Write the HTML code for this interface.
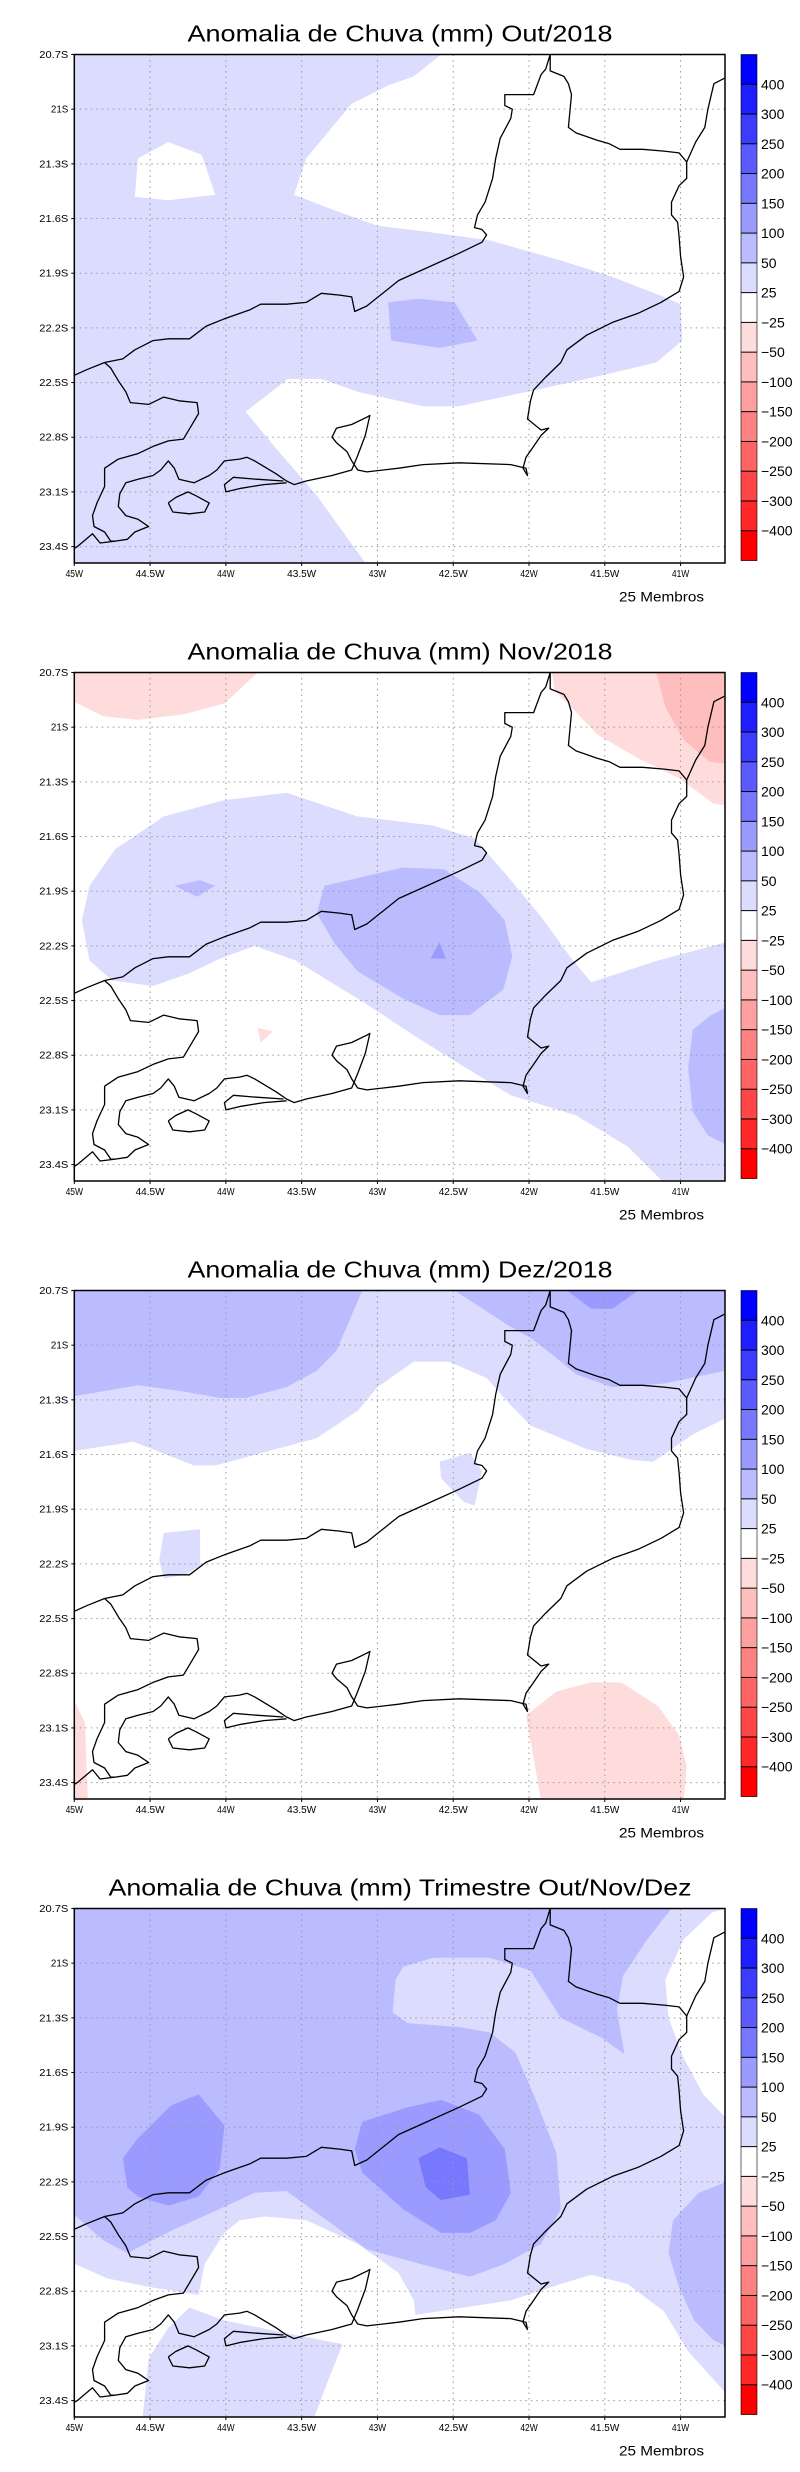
<!DOCTYPE html>
<html><head><meta charset="utf-8"><title>Anomalia de Chuva</title>
<style>
html,body{margin:0;padding:0;background:#fff;}
svg{display:block;}
</style></head>
<body>
<svg id="fig" width="800" height="2472" viewBox="0 0 800 2472" xmlns="http://www.w3.org/2000/svg" font-family="Liberation Sans, DejaVu Sans, sans-serif"></svg>
<script>
// ---- chart data ----
const panelTitles = ["Anomalia de Chuva (mm) Out/2018","Anomalia de Chuva (mm) Nov/2018","Anomalia de Chuva (mm) Dez/2018","Anomalia de Chuva (mm) Trimestre Out/Nov/Dez"];
const titleWidths = [425,425,425,583];
const lonTicks = [-45,-44.5,-44,-43.5,-43,-42.5,-42,-41.5,-41];
const lonTickLabels = ["45W","44.5W","44W","43.5W","43W","42.5W","42W","41.5W","41W"];
const latTicks = [-20.7,-21,-21.3,-21.6,-21.9,-22.2,-22.5,-22.8,-23.1,-23.4];
const latTickLabels = ["20.7S","21S","21.3S","21.6S","21.9S","22.2S","22.5S","22.8S","23.1S","23.4S"];
const legendLabels = ["400","300","250","200","150","100","50","25","-25","-50","-100","-150","-200","-250","-300","-400"];
const legendColors = ["#0000ff","#1e1eff","#3c3cff","#5a5aff","#7878ff","#9b9bff","#bbbbff","#dcdcff","#ffffff","#ffdcdc","#ffbebe","#ffa0a0","#ff8282","#ff6464","#ff4646","#ff2828","#ff0000"];
// fill classes: index into legendColors
const p1Base = 7;
const p1Regions = [
 {c:8, pts:[[-42.58,-20.70],[-42.76,-20.82],[-42.93,-20.87],[-43.17,-20.97],[-43.30,-21.10],[-43.47,-21.27],[-43.55,-21.47],[-43.30,-21.55],[-43.00,-21.64],[-42.70,-21.67],[-42.26,-21.72],[-41.79,-21.83],[-41.45,-21.92],[-41.11,-22.03],[-41.00,-22.07],[-40.99,-22.27],[-41.16,-22.39],[-41.62,-22.48],[-42.12,-22.57],[-42.46,-22.63],[-42.70,-22.63],[-43.13,-22.55],[-43.37,-22.48],[-43.59,-22.48],[-43.87,-22.66],[-43.67,-22.86],[-43.40,-23.12],[-43.07,-23.50],[-40.70,-23.50],[-40.70,-20.70]]},
 {c:8, pts:[[-44.58,-21.27],[-44.38,-21.18],[-44.16,-21.25],[-44.07,-21.47],[-44.38,-21.50],[-44.60,-21.48]]},
 {c:6, pts:[[-42.93,-22.06],[-42.73,-22.04],[-42.49,-22.06],[-42.34,-22.27],[-42.59,-22.31],[-42.91,-22.27]]}
];
const p2Base = 8;
const p2Regions = [
 {c:9, pts:[[-45,-20.70],[-43.79,-20.70],[-44.01,-20.87],[-44.28,-20.93],[-44.58,-20.96],[-44.81,-20.94],[-45,-20.86]]},
 {c:9, pts:[[-41.85,-20.70],[-40.70,-20.70],[-40.70,-21.43],[-40.78,-21.42],[-41.01,-21.28],[-41.28,-21.17],[-41.55,-21.04],[-41.71,-20.90],[-41.83,-20.80]]},
 {c:10, pts:[[-41.16,-20.70],[-40.70,-20.70],[-40.70,-21.20],[-40.81,-21.19],[-40.98,-21.07],[-41.10,-20.89]]},
 {c:7, pts:[[-44.95,-22.06],[-44.90,-21.87],[-44.73,-21.67],[-44.41,-21.49],[-44.01,-21.40],[-43.60,-21.36],[-43.13,-21.49],[-42.63,-21.54],[-42.36,-21.61],[-42.16,-21.80],[-41.92,-22.04],[-41.72,-22.27],[-41.59,-22.40],[-41.15,-22.28],[-40.70,-22.18],[-40.70,-23.50],[-41.11,-23.50],[-41.35,-23.30],[-41.69,-23.13],[-42.12,-23.02],[-42.59,-22.78],[-42.80,-22.67],[-43.07,-22.52],[-43.54,-22.28],[-43.81,-22.20],[-44.04,-22.27],[-44.24,-22.35],[-44.48,-22.42],[-44.75,-22.39],[-44.90,-22.28]]},
 {c:6, pts:[[-43.35,-21.87],[-42.83,-21.77],[-42.56,-21.78],[-42.32,-21.91],[-42.16,-22.06],[-42.11,-22.26],[-42.17,-22.44],[-42.39,-22.58],[-42.59,-22.58],[-42.83,-22.49],[-43.13,-22.34],[-43.28,-22.19],[-43.40,-22.02]]},
 {c:6, pts:[[-40.70,-22.54],[-40.80,-22.58],[-40.92,-22.66],[-40.95,-22.87],[-40.92,-23.11],[-40.82,-23.24],[-40.70,-23.29]]},
 {c:6, pts:[[-44.34,-21.87],[-44.17,-21.84],[-44.07,-21.87],[-44.19,-21.93]]},
 {c:5, pts:[[-42.59,-22.18],[-42.55,-22.27],[-42.65,-22.27]]},
 {c:9, pts:[[-43.79,-22.65],[-43.69,-22.67],[-43.77,-22.73]]}
];
const p3Base = 8;
const p3Regions = [
 {c:7, pts:[[-45,-20.70],[-40.70,-20.70],[-40.70,-21.40],[-40.92,-21.49],[-41.18,-21.64],[-41.32,-21.63],[-41.62,-21.57],[-41.99,-21.44],[-42.12,-21.33],[-42.28,-21.18],[-42.53,-21.09],[-42.76,-21.09],[-43.00,-21.23],[-43.13,-21.36],[-43.40,-21.51],[-43.67,-21.57],[-44.07,-21.66],[-44.21,-21.66],[-44.61,-21.53],[-45,-21.58]]},
 {c:6, pts:[[-45,-20.70],[-43.10,-20.70],[-43.27,-21.03],[-43.40,-21.14],[-43.60,-21.23],[-43.87,-21.29],[-44.04,-21.29],[-44.31,-21.25],[-44.58,-21.22],[-45,-21.28]]},
 {c:6, pts:[[-42.49,-20.70],[-42.12,-20.90],[-41.99,-20.96],[-41.85,-21.05],[-41.69,-21.16],[-41.45,-21.23],[-41.11,-21.21],[-40.70,-21.14],[-40.70,-20.70]]},
 {c:5, pts:[[-41.75,-20.70],[-41.59,-20.80],[-41.45,-20.80],[-41.28,-20.70]]},
 {c:7, pts:[[-42.59,-21.64],[-42.39,-21.59],[-42.31,-21.69],[-42.36,-21.88],[-42.43,-21.86],[-42.58,-21.73]]},
 {c:7, pts:[[-44.41,-22.03],[-44.17,-22.01],[-44.17,-22.21],[-44.27,-22.26],[-44.41,-22.28],[-44.44,-22.18]]},
 {c:9, pts:[[-42.02,-23.03],[-41.82,-22.90],[-41.59,-22.85],[-41.39,-22.85],[-41.15,-22.98],[-41.01,-23.14],[-40.96,-23.31],[-40.98,-23.50],[-41.92,-23.50]]},
 {c:9, pts:[[-45,-22.95],[-44.93,-23.07],[-44.91,-23.50],[-45,-23.50]]}
];
const p4Base = 7;
const p4Regions = [
 {c:8, pts:[[-45,-22.65],[-44.78,-22.73],[-44.48,-22.78],[-44.18,-22.82],[-44.14,-22.65],[-44.01,-22.48],[-43.91,-22.41],[-43.74,-22.39],[-43.47,-22.41],[-43.13,-22.54],[-42.86,-22.70],[-42.76,-22.85],[-42.75,-22.93],[-42.12,-22.85],[-41.79,-22.76],[-41.59,-22.71],[-41.35,-22.76],[-41.11,-22.91],[-40.95,-23.13],[-40.70,-23.36],[-40.70,-23.50],[-45,-23.50]]},
 {c:7, pts:[[-44.55,-23.50],[-44.51,-23.17],[-44.38,-23.00],[-44.24,-22.89],[-44.01,-22.96],[-43.60,-23.03],[-43.23,-23.09],[-43.33,-23.30],[-43.42,-23.50]]},
 {c:8, pts:[[-40.70,-20.70],[-40.79,-20.72],[-40.98,-20.87],[-41.10,-21.09],[-41.08,-21.30],[-40.98,-21.52],[-40.85,-21.72],[-40.70,-21.85]]},
 {c:6, pts:[[-45,-20.70],[-41.06,-20.70],[-41.22,-20.87],[-41.38,-21.07],[-41.42,-21.26],[-41.37,-21.50],[-41.52,-21.41],[-41.79,-21.30],[-41.99,-21.04],[-42.26,-20.97],[-42.63,-20.97],[-42.83,-21.02],[-42.88,-21.09],[-42.90,-21.27],[-42.80,-21.33],[-42.46,-21.35],[-42.26,-21.38],[-42.09,-21.49],[-41.96,-21.74],[-41.82,-22.04],[-41.79,-22.35],[-41.92,-22.54],[-42.16,-22.65],[-42.39,-22.72],[-42.63,-22.67],[-43.07,-22.57],[-43.60,-22.25],[-43.81,-22.26],[-44.07,-22.36],[-44.34,-22.46],[-44.65,-22.59],[-44.81,-22.52],[-45,-22.38]]},
 {c:6, pts:[[-40.70,-22.20],[-40.88,-22.26],[-41.05,-22.41],[-41.08,-22.59],[-41.01,-22.78],[-40.91,-22.96],[-40.78,-23.07],[-40.70,-23.10]]},
 {c:5, pts:[[-44.68,-22.07],[-44.58,-21.96],[-44.36,-21.78],[-44.18,-21.72],[-44.01,-21.89],[-44.04,-22.13],[-44.18,-22.28],[-44.38,-22.33],[-44.58,-22.28],[-44.65,-22.23]]},
 {c:5, pts:[[-43.10,-21.87],[-42.80,-21.79],[-42.58,-21.75],[-42.33,-21.83],[-42.16,-22.02],[-42.12,-22.26],[-42.22,-22.41],[-42.39,-22.48],[-42.58,-22.48],[-42.83,-22.35],[-43.10,-22.15],[-43.15,-22.02]]},
 {c:4, pts:[[-42.73,-22.07],[-42.59,-22.01],[-42.41,-22.07],[-42.39,-22.27],[-42.58,-22.30],[-42.68,-22.23]]}
];
const panelBases = [p1Base,p2Base,p3Base,p4Base];
const panelRegions = [p1Regions,p2Regions,p3Regions,p4Regions];
// coastline / state borders (lon, lat)
const borderRJ = [[-45,-22.46],[-44.92,-22.43],[-44.80,-22.39],[-44.68,-22.37],[-44.60,-22.32],[-44.48,-22.27],[-44.38,-22.26],[-44.24,-22.26],[-44.13,-22.19],[-44.01,-22.15],[-43.84,-22.10],[-43.77,-22.07],[-43.60,-22.07],[-43.47,-22.06],[-43.37,-22.01],[-43.25,-22.02],[-43.17,-22.03],[-43.15,-22.11],[-43.07,-22.08],[-42.86,-21.94],[-42.70,-21.88],[-42.46,-21.79],[-42.31,-21.73],[-42.28,-21.69],[-42.31,-21.66],[-42.36,-21.65],[-42.34,-21.58],[-42.29,-21.51],[-42.24,-21.38],[-42.22,-21.27],[-42.19,-21.16],[-42.12,-21.05],[-42.11,-21.00],[-42.16,-20.98],[-42.16,-20.92],[-41.97,-20.92],[-41.92,-20.81],[-41.89,-20.78],[-41.86,-20.70],[-41.86,-20.79],[-41.77,-20.82],[-41.74,-20.86],[-41.72,-20.92],[-41.74,-21.10],[-41.69,-21.13],[-41.55,-21.17],[-41.47,-21.19],[-41.40,-21.22],[-41.25,-21.22],[-41.11,-21.23],[-41.01,-21.24],[-40.96,-21.29]];
const coastES = [[-40.71,-20.83],[-40.78,-20.86],[-40.82,-21.00],[-40.84,-21.10],[-40.90,-21.18],[-40.96,-21.29],[-40.96,-21.38],[-41.01,-21.42],[-41.06,-21.51],[-41.06,-21.58],[-41.02,-21.62],[-41.01,-21.70],[-41.00,-21.81],[-40.98,-21.92],[-41.01,-22.00],[-41.13,-22.06],[-41.28,-22.12],[-41.45,-22.17],[-41.62,-22.24],[-41.75,-22.32],[-41.79,-22.39],[-41.89,-22.47],[-41.97,-22.54],[-41.99,-22.60],[-42.01,-22.70],[-41.92,-22.76],[-41.87,-22.75],[-41.92,-22.79],[-41.97,-22.85],[-42.02,-22.91],[-42.04,-22.97],[-42.01,-23.01],[-42.02,-22.97],[-42.12,-22.95],[-42.46,-22.94],[-42.70,-22.95],[-42.86,-22.97],[-43.07,-22.99],[-43.13,-22.98],[-43.17,-22.93],[-43.20,-22.88],[-43.27,-22.83],[-43.30,-22.80],[-43.27,-22.75],[-43.17,-22.73],[-43.07,-22.69],[-43.05,-22.68],[-43.08,-22.79],[-43.13,-22.90],[-43.17,-22.98],[-43.30,-23.01],[-43.47,-23.04],[-43.55,-23.06],[-43.60,-23.04],[-43.67,-23.00],[-43.81,-22.93],[-43.86,-22.91],[-43.91,-22.92],[-44.01,-22.93],[-44.06,-22.98],[-44.11,-23.01],[-44.21,-23.05],[-44.31,-23.03],[-44.34,-22.97],[-44.38,-22.93],[-44.43,-22.98],[-44.48,-23.01],[-44.58,-23.03],[-44.66,-23.05],[-44.70,-23.11],[-44.71,-23.18],[-44.66,-23.23],[-44.58,-23.25],[-44.51,-23.29],[-44.60,-23.32],[-44.65,-23.36],[-44.73,-23.37],[-44.83,-23.38],[-44.88,-23.33],[-44.98,-23.40],[-45,-23.41]];
const borderSP = [[-44.80,-22.39],[-44.76,-22.42],[-44.71,-22.49],[-44.66,-22.55],[-44.63,-22.61],[-44.51,-22.62],[-44.41,-22.58],[-44.31,-22.60],[-44.19,-22.61],[-44.18,-22.67],[-44.23,-22.74],[-44.28,-22.81],[-44.38,-22.82],[-44.48,-22.85],[-44.58,-22.89],[-44.71,-22.92],[-44.80,-22.97],[-44.80,-23.07],[-44.85,-23.16],[-44.88,-23.23],[-44.87,-23.29],[-44.80,-23.32],[-44.76,-23.37],[-44.73,-23.37]];
const ilhaGrande = [[-44.38,-23.16],[-44.33,-23.13],[-44.25,-23.10],[-44.20,-23.12],[-44.11,-23.16],[-44.14,-23.21],[-44.24,-23.22],[-44.35,-23.21],[-44.38,-23.16]];
const marambaia = [[-43.60,-23.05],[-43.75,-23.06],[-43.90,-23.08],[-44.00,-23.10],[-44.01,-23.06],[-43.95,-23.02],[-43.80,-23.03],[-43.62,-23.04]];

// ---- layout ----
const NS="http://www.w3.org/2000/svg";
const svg=document.getElementById('fig');
const PANEL_STEP=618, PLOT_TOP=54.5, PLOT_L=74.3, PLOT_R=725;
const LON0=-45, LON1=-40.707, LAT0=-20.7, LAT1=-23.49;
const PLOT_H=508.5;
function xScale(lon){return PLOT_L+(lon-LON0)/(LON1-LON0)*(PLOT_R-PLOT_L);}
function yScale(lat,top){return top+(lat-LAT0)/(LAT1-LAT0)*PLOT_H;}
function mk(tag,attrs,parent){const e=document.createElementNS(NS,tag);for(const k in attrs)e.setAttribute(k,attrs[k]);(parent||svg).appendChild(e);return e;}
function ptsStr(arr,top){return arr.map(p=>xScale(p[0]).toFixed(1)+','+yScale(p[1],top).toFixed(1)).join(' ');}

for(let i=0;i<4;i++){
  const top=PLOT_TOP+PANEL_STEP*i;
  const g=mk('g',{});
  
  
  const cid='clip'+i;
  const cp=mk('clipPath',{id:cid},g);
  mk('rect',{x:PLOT_L,y:top,width:PLOT_R-PLOT_L,height:PLOT_H},cp);
  // title
  const t=mk('text',{x:400,y:top-13,'text-anchor':'middle','font-size':23,textLength:titleWidths[i],lengthAdjust:'spacingAndGlyphs',fill:'#000'},g);
  t.textContent=panelTitles[i];
  
  
  // fields
  const fg=mk('g',{'clip-path':'url(#'+cid+')'},g);
  const base=mk('rect',{x:PLOT_L,y:top,width:PLOT_R-PLOT_L,height:PLOT_H,fill:legendColors[panelBases[i]]},fg);
  
  
  panelRegions[i].forEach(r=>{
    const p=mk('polygon',{points:ptsStr(r.pts,top),fill:legendColors[r.c]},fg);
    
    
  });
  // grid
  lonTicks.forEach((lv,k)=>{
    const x=xScale(lv);
    if(k>0){const gl=mk('line',{x1:x,x2:x,y1:top,y2:top+PLOT_H,stroke:'#999','stroke-width':1,'stroke-dasharray':'1.5,4'},g);
      }
    mk('line',{x1:x,x2:x,y1:top+PLOT_H,y2:top+PLOT_H+3,stroke:'#000','stroke-width':1},g);
    const tl=mk('text',{x:x,y:top+PLOT_H+14,'text-anchor':'middle','font-size':10,fill:'#000',textLength:lonTickLabels[k].length*5.8,lengthAdjust:'spacingAndGlyphs'},g);
    tl.textContent=lonTickLabels[k];
    
  });
  latTicks.forEach((lv,k)=>{
    const y=yScale(lv,top);
    if(k>0){const gl=mk('line',{x1:PLOT_L,x2:PLOT_R,y1:y,y2:y,stroke:'#999','stroke-width':1,'stroke-dasharray':'1.5,4'},g);
      }
    mk('line',{x1:PLOT_L-3,x2:PLOT_L,y1:y,y2:y,stroke:'#000','stroke-width':1},g);
    const tl=mk('text',{x:PLOT_L-6,y:y+3.5,'text-anchor':'end','font-size':10,fill:'#000',textLength:latTickLabels[k].length*5.8,lengthAdjust:'spacingAndGlyphs'},g);
    tl.textContent=latTickLabels[k];
    
  });
  // coast
  const cg=mk('g',{'clip-path':'url(#'+cid+')',fill:'none',stroke:'#000','stroke-width':1.3,'stroke-linejoin':'round'},g);
  [borderRJ,coastES,borderSP,marambaia,ilhaGrande].forEach(line=>{
    const pl=mk('polyline',{points:ptsStr(line,top)},cg);
    
    
  });
  // frame
  const fr=mk('rect',{x:PLOT_L,y:top,width:PLOT_R-PLOT_L,height:PLOT_H,fill:'none',stroke:'#000','stroke-width':1.5},g);
  
  // colorbar
  const cb=mk('g',{},g);
  
  
  const cbTop=top, cbH=506, seg=cbH/legendColors.length;
  legendColors.forEach((c,k)=>{
    const r=mk('rect',{x:741,y:cbTop+k*seg,width:16,height:seg+0.3,fill:c},cb);
    
  });
  for(let k=1;k<legendColors.length;k++){
    mk('line',{x1:741,x2:757,y1:cbTop+k*seg,y2:cbTop+k*seg,stroke:'#000','stroke-width':1},cb);
  }
  mk('rect',{x:741,y:cbTop,width:16,height:cbH,fill:'none',stroke:'#000','stroke-width':0.6},cb);
  legendLabels.forEach((lab,k)=>{
    const tx=mk('text',{x:761,y:cbTop+(k+1)*seg+5,'font-size':14,fill:'#000'},cb);
    tx.textContent=lab.replace('-','\u2212');
    
  });
  const m=mk('text',{x:619,y:top+547,'font-size':14,textLength:85,lengthAdjust:'spacingAndGlyphs',fill:'#000'},g);
  m.textContent='25 Membros';
  
  
}
</script>
</body></html>
